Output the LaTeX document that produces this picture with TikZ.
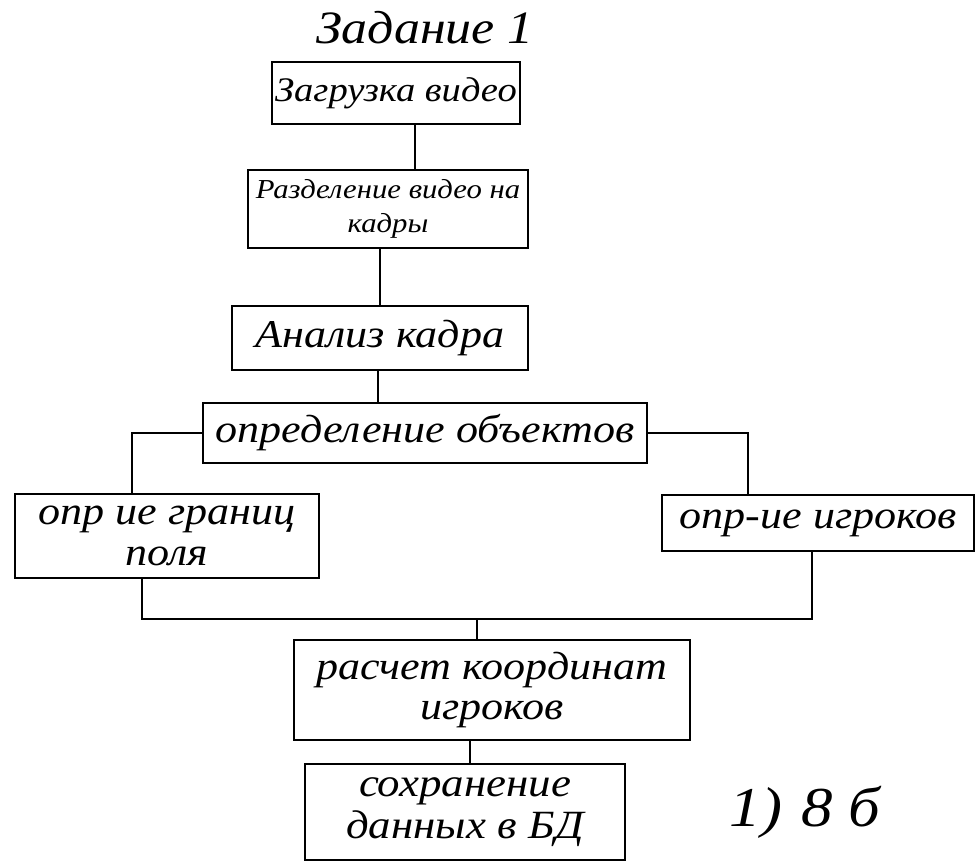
\documentclass[tikz,border=0pt]{standalone}
\usepackage{fontspec}
\setmainfont[FakeStretch=1.12]{Liberation Serif}
\begin{document}
\begin{tikzpicture}[x=0.025cm,y=-0.025cm,
  box/.style={draw,line width=1.4pt,align=center,inner sep=0pt,font=\itshape\fontsize{28}{29}\selectfont},
  link/.style={line width=1.4pt},
  lbl/.style={align=center,font=\itshape\fontsize{33}{30}\selectfont}]
\useasboundingbox (0,0) rectangle (979,865);
\node[lbl] (title) at (425,28) {Задание 1};
\node[box,minimum width=6.2cm,minimum height=1.55cm,font=\itshape\fontsize{24.5}{26}\selectfont] (b1) at (396,93) {Загрузка видео};
\node[box,minimum width=7.0cm,minimum height=1.95cm,font=\itshape\fontsize{19.5}{24}\selectfont] (b2) at (388,209) {Разделение видео на\\кадры};
\node[box,minimum width=7.4cm,minimum height=1.58cm] (b3) at (380,338) {Анализ кадра};
\node[box,minimum width=11.12cm,minimum height=1.5cm] (b4) at (425,433) {определение объектов};
\node[box,minimum width=7.62cm,minimum height=2.08cm] (b5) at (167,536) {опр ие границ\\поля};
\node[box,minimum width=7.82cm,minimum height=1.42cm] (b6) at (818,523) {опр-ие игроков};
\node[box,minimum width=9.88cm,minimum height=2.5cm] (b7) at (492,690) {расчет координат\\игроков};
\node[box,minimum width=8.0cm,minimum height=2.38cm,font=\itshape\fontsize{28.5}{30}\selectfont] (b8) at (465,812) {сохранение\\данных в БД};
\node[lbl,font=\itshape\fontsize{40}{40}\selectfont] (score) at (805,812) {1)\,\,8 б};
\coordinate (xa) at (415,0);
\coordinate (xb) at (380,0);
\coordinate (xc) at (378,0);
\coordinate (xl) at (132,0);
\coordinate (xr) at (748,0);
\coordinate (xd) at (142,0);
\coordinate (xe) at (812,0);
\coordinate (m) at (477,619);
\coordinate (xf) at (470,0);
\draw[link] (b1.south -| xa) -- (b2.north -| xa);
\draw[link] (b2.south -| xb) -- (b3.north -| xb);
\draw[link] (b3.south -| xc) -- (b4.north -| xc);
\draw[link] (b4.west) -| (b5.north -| xl);
\draw[link] (b4.east) -| (b6.north -| xr);
\draw[link] (b5.south -| xd) |- (m) -| (b6.south -| xe);
\draw[link] (m) -- (b7.north -| m);
\draw[link] (b7.south -| xf) -- (b8.north -| xf);
\end{tikzpicture}
\end{document}
